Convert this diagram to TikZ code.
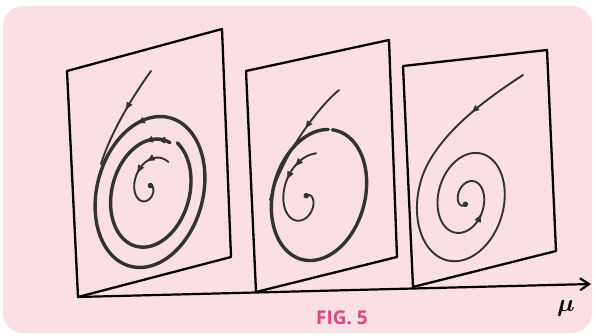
\documentclass[tikz,border=0pt]{standalone}
\usepackage{fontspec}
\newfontfamily\capfont{Open Sans}
\usetikzlibrary{arrows.meta, decorations.markings}
\definecolor{figpink}{HTML}{FAE0E4}
\definecolor{figred}{HTML}{E0457B}
\definecolor{inkgray}{HTML}{333333}

\begin{document}
\begin{tikzpicture}[x=1pt, y=-1pt,
    frame/.style={black, line width=2.3pt, line join=round},
    orbit/.style={inkgray, line width=3.4pt, line cap=round},
    flow/.style={inkgray, line width=1.9pt, line cap=round},
    tip/.style={inkgray, line width=1pt, -{Latex[length=9pt, width=7pt]}},
    midtip/.style={postaction={decorate}, decoration={markings,
        mark=at position #1 with {\arrow{Latex[length=9pt, width=7pt]}}}}]
  \useasboundingbox (0,0) rectangle (595,336);
  \fill[figpink, rounded corners=20pt] (3,6) rectangle (592,333);

  % the three planes
  \coordinate (p1tl) at (67,71);   \coordinate (p1tr) at (222,29);
  \coordinate (p1br) at (231,257); \coordinate (p1bl) at (78,297);
  \coordinate (p2tl) at (246,71);  \coordinate (p2tr) at (389,40);
  \coordinate (p2br) at (397,257); \coordinate (p2bl) at (256,292);
  \coordinate (p3tl) at (403,66);  \coordinate (p3tr) at (547,50);
  \coordinate (p3br) at (556,251); \coordinate (p3bl) at (413,287);
  \draw[frame] (p1tl) -- (p1tr) -- (p1br) -- (p1bl) -- cycle;
  \draw[frame] (p2tl) -- (p2tr) -- (p2br) -- (p2bl) -- cycle;
  \draw[frame] (p3tl) -- (p3tr) -- (p3br) -- (p3bl) -- cycle;

  % parameter axis
  \coordinate (axend) at (591,284);
  \draw[black, line width=2.2pt, -{Straight Barb[length=9pt, width=12pt]}] (p1bl) -- (axend);
  \node[font=\fontsize{23}{23}\selectfont\boldmath] (mulabel) at (566,308) {$\mu$};
  \node[font=\fontsize{19}{20}\selectfont\capfont\bfseries, text=figred] (caption) at (342,318) {FIG. 5};

  % first plane
  \coordinate (in1a) at (151,71);
  \coordinate (in1b) at (101,164);
  \draw[flow, midtip=0.45] (in1a) .. controls (130,100) and (110,135) .. (in1b);
  \begin{scope}[shift={(150,192)}, rotate=-15,
      declare function={outerA(\t)=53; loopA(\t)=37+3*(\t-80)/350;}]
    \draw[orbit] plot[domain=100:462, samples=100, variable=\t]
      ({outerA(\t)*cos(\t)}, {-1.45*outerA(\t)*sin(\t)});
    \draw[orbit] plot[domain=80:430, samples=100, variable=\t]
      ({loopA(\t)*cos(\t)}, {-1.45*loopA(\t)*sin(\t)});
    \draw[tip] plot[domain=114:126, samples=2, variable=\t]
      ({outerA(\t)*cos(\t)}, {-1.45*outerA(\t)*sin(\t)});
    \draw[tip] plot[domain=90:102, samples=2, variable=\t]
      ({loopA(\t)*cos(\t)}, {-1.45*loopA(\t)*sin(\t)});
    \draw[tip] plot[domain=108:120, samples=2, variable=\t]
      ({loopA(\t)*cos(\t)}, {-1.45*loopA(\t)*sin(\t)});
  \end{scope}
  \begin{scope}[shift={(149,188)}, rotate=-15,
      declare function={innerA(\t)=2+22*((430-\t)/370)^1.3;}]
    \draw[flow] plot[domain=60:428, samples=100, variable=\t]
      ({innerA(\t)*cos(\t)}, {-1.45*innerA(\t)*sin(\t)});
    \draw[tip] plot[domain=106:120, samples=2, variable=\t]
      ({innerA(\t)*cos(\t)}, {-1.45*innerA(\t)*sin(\t)});
    \draw[tip] plot[domain=141:155, samples=2, variable=\t]
      ({innerA(\t)*cos(\t)}, {-1.45*innerA(\t)*sin(\t)});
    \coordinate (endA) at ({innerA(428)*cos(428)}, {-1.45*innerA(428)*sin(428)});
    \fill[inkgray] (endA) circle (2.8pt);
  \end{scope}

  % second plane
  \coordinate (in2a) at (339,90);
  \coordinate (in2b) at (270,200);
  \draw[flow, midtip=0.4] (in2a) .. controls (315,110) and (280,160) .. (in2b);
  \begin{scope}[shift={(319,195)}, rotate=-15,
      declare function={outerB(\t)=46;}]
    \draw[orbit] plot[domain=100:455, samples=100, variable=\t]
      ({outerB(\t)*cos(\t)}, {-1.45*outerB(\t)*sin(\t)});
  \end{scope}
  \begin{scope}[shift={(306,200)}, rotate=-15,
      declare function={innerB(\t)=3+30*((470-\t)/376)^1.5;}]
    \draw[flow] plot[domain=94:466, samples=100, variable=\t]
      ({innerB(\t)*cos(\t)}, {-1.45*innerB(\t)*sin(\t)});
    \draw[tip] plot[domain=121:135, samples=2, variable=\t]
      ({innerB(\t)*cos(\t)}, {-1.45*innerB(\t)*sin(\t)});
    \draw[tip] plot[domain=144:158, samples=2, variable=\t]
      ({innerB(\t)*cos(\t)}, {-1.45*innerB(\t)*sin(\t)});
    \coordinate (endB) at ({innerB(466)*cos(466)}, {-1.45*innerB(466)*sin(466)});
    \fill[inkgray] (endB) circle (2.8pt);
  \end{scope}

  % third plane
  \begin{scope}[shift={(466,200)}, rotate=-15,
      declare function={spirC(\t)=49-0.05542*(\t-170);}]
    \coordinate (in3a) at (22.7,-135.5);
    \coordinate (in3b) at ({spirC(170)*cos(170)}, {-1.45*spirC(170)*sin(170)});
    \draw[flow, midtip=0.45] (in3a) .. controls (0,-110) and (-44,-60) .. (in3b);
    \draw[flow] plot[domain=170:1000, samples=220, variable=\t]
      ({spirC(\t)*cos(\t)}, {-1.45*spirC(\t)*sin(\t)});
    \draw[tip] plot[domain=688:702, samples=2, variable=\t]
      ({spirC(\t)*cos(\t)}, {-1.45*spirC(\t)*sin(\t)});
    \coordinate (endC) at ({spirC(1000)*cos(1000)}, {-1.45*spirC(1000)*sin(1000)});
    \fill[inkgray] (endC) circle (2.8pt);
  \end{scope}
\end{tikzpicture}
\end{document}
